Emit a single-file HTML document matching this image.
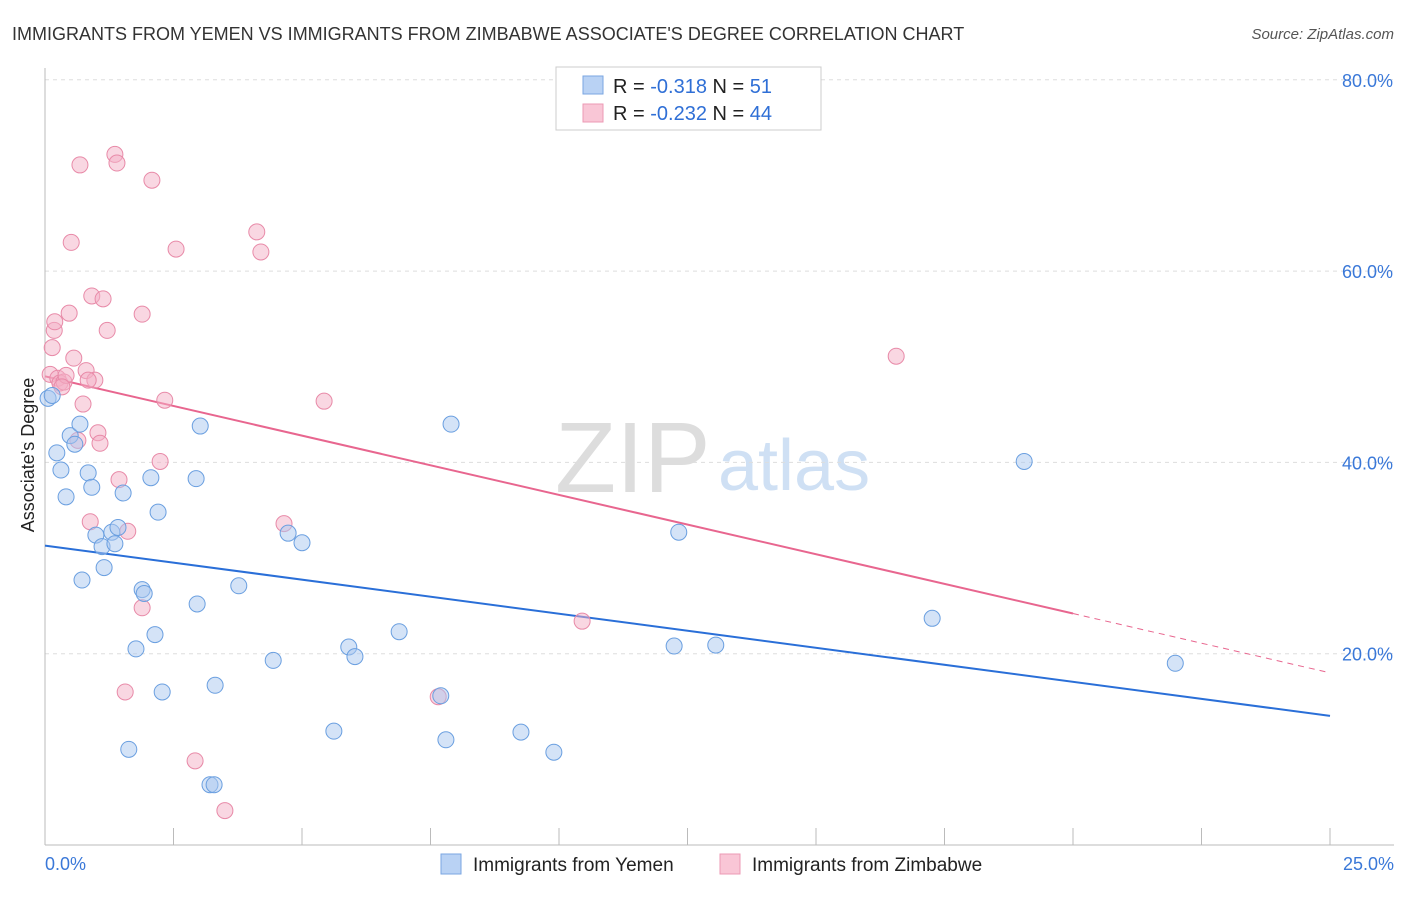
<!DOCTYPE html>
<html><head><meta charset="utf-8"><style>
body{margin:0;background:#fff;font-family:"Liberation Sans",sans-serif;}
svg text{font-family:"Liberation Sans",sans-serif;}
</style></head><body>
<svg id="chart" width="1406" height="892">
<text x="12" y="40" font-size="18" fill="#333">IMMIGRANTS FROM YEMEN VS IMMIGRANTS FROM ZIMBABWE ASSOCIATE'S DEGREE CORRELATION CHART</text>
<text x="1394" y="39" font-size="15" fill="#555" font-style="italic" text-anchor="end">Source: ZipAtlas.com</text>
<text x="555" y="492" font-size="100" fill="#ddd" font-family="Liberation Serif">ZIP</text>
<text x="718" y="490" font-size="72" fill="#cfe0f4">atlas</text>
<text transform="translate(34,455) rotate(-90)" font-size="18" fill="#222" text-anchor="middle">Associate's Degree</text>
<g id="grid"></g><g id="ticks"></g><g id="lines"></g><g id="pts"></g>
<rect x="556" y="67" width="265" height="63" fill="#fff" stroke="#ccc"/>
<rect x="583" y="76" width="20" height="18" fill="#b9d2f4" stroke="#7aa6e2"/>
<rect x="583" y="104" width="20" height="18" fill="#f9c6d6" stroke="#ec9ab4"/>
<text x="613" y="93" font-size="20" fill="#222">R = <tspan fill="#2f6fd6">-0.318</tspan>   N = <tspan fill="#2f6fd6"> 51</tspan></text>
<text x="613" y="120" font-size="20" fill="#222">R = <tspan fill="#2f6fd6">-0.232</tspan>   N = <tspan fill="#2f6fd6">44</tspan></text>
<rect x="441" y="854" width="20" height="20" fill="#b9d2f4" stroke="#7aa6e2"/>
<text x="473" y="871" font-size="19" fill="#222">Immigrants from Yemen</text>
<rect x="720" y="854" width="20" height="20" fill="#f9c6d6" stroke="#ec9ab4"/>
<text x="752" y="871" font-size="19" fill="#222">Immigrants from Zimbabwe</text>
</svg>
<script>
const yTicks=[20,40,60,80];
const yTickLabels=["20.0%","40.0%","60.0%","80.0%"];
const xTickLabels=["0.0%","25.0%"];
const yemenX=[0.06,0.14,0.23,0.31,0.41,0.49,0.58,0.68,0.72,0.84,0.91,0.99,1.11,1.15,1.30,1.36,1.42,1.52,1.63,1.77,1.89,1.93,2.06,2.14,2.20,2.28,2.94,2.96,3.02,3.31,3.21,3.29,3.77,4.44,4.73,5.00,5.62,5.91,6.03,6.89,7.70,7.80,7.90,9.26,9.90,12.24,12.33,13.05,17.26,19.05,21.99];
const yemenY=[46.7,47.0,41.0,39.2,36.4,42.8,41.9,44.0,27.7,38.9,37.4,32.4,31.2,29.0,32.7,31.5,33.2,36.8,10.0,20.5,26.7,26.3,38.4,22.0,34.8,16.0,38.3,25.2,43.8,16.7,6.3,6.3,27.1,19.3,32.6,31.6,11.9,20.7,19.7,22.3,15.6,11.0,44.0,11.8,9.7,20.8,32.7,20.9,23.7,40.1,19.0];
const zimX=[0.10,0.14,0.18,0.19,0.25,0.29,0.37,0.41,0.47,0.51,0.56,0.64,0.68,0.74,0.80,0.88,0.91,0.97,1.03,1.07,1.13,1.21,1.36,1.40,1.44,1.56,1.61,1.89,1.89,2.08,2.24,2.33,2.55,2.92,3.50,4.12,4.20,4.65,5.43,7.65,10.45,16.56,0.84,0.33];
const zimY=[49.2,52.0,53.8,54.7,48.8,48.3,48.4,49.1,55.6,63.0,50.9,42.3,71.1,46.1,49.6,33.8,57.4,48.6,43.1,42.0,57.1,53.8,72.2,71.3,38.2,16.0,32.8,55.5,24.8,69.5,40.1,46.5,62.3,8.8,3.6,64.1,62.0,33.6,46.4,15.5,23.4,51.1,48.6,47.9];
const yemenTrend=[31.3,13.5];
const zimTrend=[49.0,18.0];
const zimSolidEnd=20;
const NS="http://www.w3.org/2000/svg";
const sx=v=>45+v/25*1285, sy=v=>845-v/20*191.3;
function mk(tag,a,parent){const e=document.createElementNS(NS,tag);for(const k in a)e.setAttribute(k,a[k]);document.getElementById(parent).appendChild(e);return e;}
yTicks.forEach((t,i)=>{
 const g=mk('line',{x1:45,x2:1394,y1:sy(t),y2:sy(t),stroke:'#ddd','stroke-dasharray':'4,4'},'grid');
 
 
 const l=mk('text',{x:1393,y:sy(t)+7,'font-size':18,fill:'#3a78d8','text-anchor':'end'},'grid');l.textContent=yTickLabels[i];
 
 
});
const ax=mk('line',{x1:45,x2:45,y1:68,y2:845,stroke:'#bbb'},'grid');


const bx=mk('line',{x1:45,x2:1394,y1:845,y2:845,stroke:'#bbb'},'grid');


for(let i=0;i<=10;i++){const v=i*2.5;const t=mk('line',{x1:sx(v),x2:sx(v),y1:828,y2:845,stroke:'#bbb'},'ticks');
 
 }
[[0,'start',45],[25,'end',1394]].forEach((d,i)=>{const t=mk('text',{x:d[2],y:870,'font-size':18,fill:'#3a78d8','text-anchor':d[1]},'ticks');t.textContent=xTickLabels[i];
 
 });
function pts(X,Y,fill,stroke,name){X.forEach((x,i)=>{const c=mk('circle',{cx:sx(x),cy:sy(Y[i]),r:8,fill:fill,'fill-opacity':0.5,stroke:stroke,'stroke-width':1},'pts');
 
 });}
pts(zimX,zimY,'#f4b0c6','#e88aa8','zimbabwe-point');
pts(yemenX,yemenY,'#a9c8f0','#6a9fe0','yemen-point');
const bl=mk('line',{x1:sx(0),y1:sy(yemenTrend[0]),x2:sx(25),y2:sy(yemenTrend[1]),stroke:'#2a6fd8','stroke-width':2},'lines');


const zy=v=>zimTrend[0]+(zimTrend[1]-zimTrend[0])*v/25;
const pl=mk('line',{x1:sx(0),y1:sy(zy(0)),x2:sx(zimSolidEnd),y2:sy(zy(zimSolidEnd)),stroke:'#e8668f','stroke-width':2},'lines');


const pd=mk('line',{x1:sx(zimSolidEnd),y1:sy(zy(zimSolidEnd)),x2:sx(25),y2:sy(zy(25)),stroke:'#e8668f','stroke-width':1,'stroke-dasharray':'6,5'},'lines');


</script>
</body></html>
